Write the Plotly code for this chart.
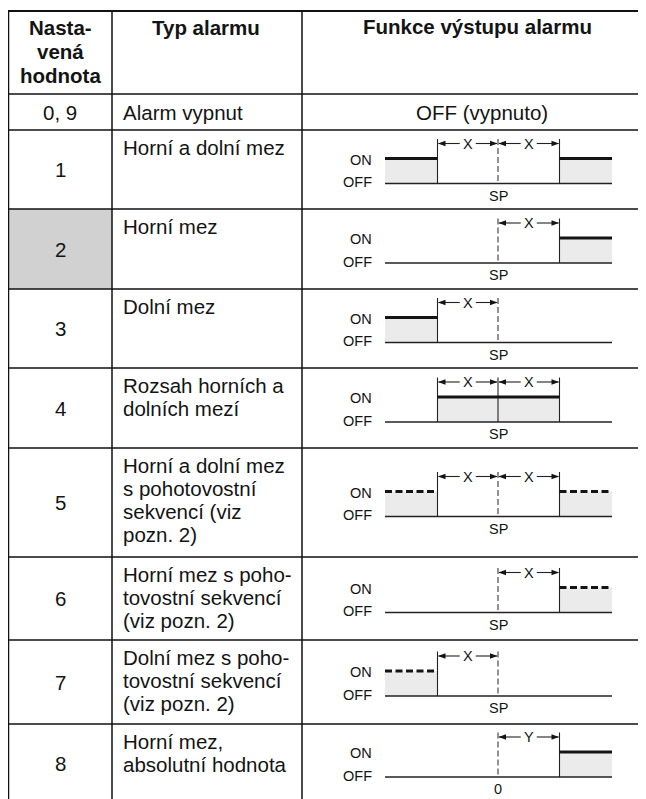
import plotly.graph_objects as go

W, H = 646, 799
PAGE_MARGIN = 8  # default body margin of the html page

# ---------------- data ----------------
header_value = ["Nasta-", "vená", "hodnota"]
header_type = ["Typ alarmu"]
header_func = ["Funkce výstupu alarmu"]

set_values = ["0, 9", "1", "2", "3", "4", "5", "6", "7", "8"]
alarm_types = [
    ["Alarm vypnut"],
    ["Horní a dolní mez"],
    ["Horní mez"],
    ["Dolní mez"],
    ["Rozsah horních a", "dolních mezí"],
    ["Horní a dolní mez", "s pohotovostní", "sekvencí (viz", "pozn. 2)"],
    ["Horní mez s poho-", "tovostní sekvencí", "(viz pozn. 2)"],
    ["Dolní mez s poho-", "tovostní sekvencí", "(viz pozn. 2)"],
    ["Horní mez,", "absolutní hodnota"],
]
off_text = "OFF (vypnuto)"
# output state per zone (below / inside / above the set-point band)
on_below = [None, True, False, True, False, True, False, True, False]
on_inside = [None, False, False, False, True, False, False, False, False]
on_above = [None, True, True, False, False, True, True, False, True]
standby = [None, False, False, False, False, True, True, True, False]
dim_left = [None, True, False, True, True, True, False, True, False]
dim_right = [None, True, True, False, True, True, True, False, True]
dim_label = [None, "X", "X", "X", "X", "X", "X", "X", "Y"]
ref_label = [None, "SP", "SP", "SP", "SP", "SP", "SP", "SP", "0"]
highlight_row = 2

# ---------------- layout constants ----------------
FONT = "Liberation Sans, Arial, Helvetica, sans-serif"
TXT = "#141414"
row_edges = [11, 94, 130, 209, 289, 368, 448, 557, 640, 724, 802]
col_edges = [8, 112, 302, 660]
XS, XL, XSP, XR, XE = 385, 437.5, 498, 559.5, 612
BODY = 20.5
HEAD = 20.5
SMALL = 14.5

shapes = []
ann = []


def line(x0, y0, x1, y1, w=1.5, color="#111", dash="solid"):
    shapes.append(dict(type="line", x0=x0, y0=y0, x1=x1, y1=y1, xref="x", yref="y",
                       line=dict(color=color, width=w, dash=dash)))


def rect(x0, y0, x1, y1, fill):
    shapes.append(dict(type="rect", x0=x0, y0=y0, x1=x1, y1=y1, xref="x", yref="y",
                       fillcolor=fill, line=dict(width=0), layer="below"))


def text(x, y, s, size=BODY, xa="center", bold=False, color=TXT):
    ann.append(dict(x=x, y=y, xref="x", yref="y", text=("<b>%s</b>" % s) if bold else s,
                    showarrow=False, xanchor=xa, yanchor="middle",
                    font=dict(family=FONT, size=size, color=color)))


# highlighted cell
ri = highlight_row + 1
rect(col_edges[0], row_edges[ri], col_edges[1], row_edges[ri + 1], "#d1d1d1")

# header text
for k, s in enumerate(header_value):
    text((col_edges[0] + col_edges[1]) / 2, 27.5 + 24 * k, s, size=HEAD, bold=True)
text((col_edges[1] + col_edges[2]) / 2 - 1, 27.5, header_type[0], size=HEAD, bold=True)
text(477, 26.5, header_func[0], size=HEAD, bold=True)

# rows
for i, val in enumerate(set_values):
    top, bot = row_edges[i + 1], row_edges[i + 2]
    cy = (top + bot) / 2
    text((col_edges[0] + col_edges[1]) / 2, cy, val)
    if i == 0:
        text(col_edges[1] + 9, cy, alarm_types[i][0], xa="left")
        text(482, cy, off_text)
        continue
    for k, s in enumerate(alarm_types[i]):
        text(col_edges[1] + 9, top + 17.5 + 23 * k, s, xa="left")

    ya = cy - 26
    yon = cy - 11
    yoff = cy + 14
    zones = [(XS, XL, on_below[i]), (XL, XR, on_inside[i]), (XR, XE, on_above[i])]
    for x0, x1, on in zones:
        if on:
            rect(x0, yon, x1, yoff, "#ebebeb")
    # baseline
    line(XS, yoff, XE, yoff, w=1.5, color="#222")
    # step / extension lines
    if dim_left[i]:
        line(XL, ya - 4.5, XL, yoff, w=1.1, color="#222")
    if dim_right[i]:
        line(XR, ya - 4.5, XR, yoff, w=1.1, color="#222")
    # set point line
    if on_inside[i]:
        line(XSP, ya - 4.5, XSP, yoff, w=1.1, color="#222")
    else:
        line(XSP, ya - 4.5, XSP, yoff, w=1.1, color="#3a3a3a", dash="6px,3px")
    # ON lines
    for x0, x1, on in zones:
        if on:
            line(x0, yon, x1, yon, w=3.2, color="#141414",
                 dash="7px,3.5px" if standby[i] else "solid")
    # dimension arrows
    segs = []
    if dim_left[i]:
        segs.append((XL, XSP))
    if dim_right[i]:
        segs.append((XSP, XR))
    for a, b in segs:
        m = (a + b) / 2
        line(a + 1, ya, m - 8, ya, w=1.1, color="#222")
        line(m + 8, ya, b - 1, ya, w=1.1, color="#222")
        shapes.append(dict(type="path", xref="x", yref="y",
                           path="M %s,%s L %s,%s L %s,%s Z" % (a + 0.5, ya, a + 8, ya - 2.7, a + 8, ya + 2.7),
                           fillcolor="#141414", line=dict(width=0)))
        shapes.append(dict(type="path", xref="x", yref="y",
                           path="M %s,%s L %s,%s L %s,%s Z" % (b - 0.5, ya, b - 8, ya - 2.7, b - 8, ya + 2.7),
                           fillcolor="#141414", line=dict(width=0)))
        text(m, ya, dim_label[i], size=SMALL)
    text(374, yon + 1, "ON", size=SMALL, xa="right")
    text(374, yoff - 1.5, "OFF", size=SMALL, xa="right")
    text(XSP, yoff + 12, ref_label[i], size=SMALL)

# table grid
for y in row_edges[1:]:
    line(col_edges[0], y, W + 5, y, w=1.5, color="#111")
line(col_edges[0] - 1, row_edges[0], W + 5, row_edges[0], w=2.2, color="#111")
line(col_edges[0], row_edges[0], col_edges[0], row_edges[-1], w=2.5, color="#111")
for x in col_edges[1:3]:
    line(x, row_edges[0], x, row_edges[-1], w=1.5, color="#111")

# the figure sits inside the page margin; axis ranges map data units to page pixels
FW, FH = W - PAGE_MARGIN, H - PAGE_MARGIN
fig = go.Figure()
fig.update_layout(
    width=FW, height=FH, autosize=False,
    margin=dict(l=0, r=0, t=0, b=0),
    paper_bgcolor="white", plot_bgcolor="white",
    xaxis=dict(range=[PAGE_MARGIN, W], visible=False, fixedrange=True),
    yaxis=dict(range=[H, PAGE_MARGIN], visible=False, fixedrange=True),
    shapes=shapes, annotations=ann, showlegend=False,
)
fig.write_html("out.html")
